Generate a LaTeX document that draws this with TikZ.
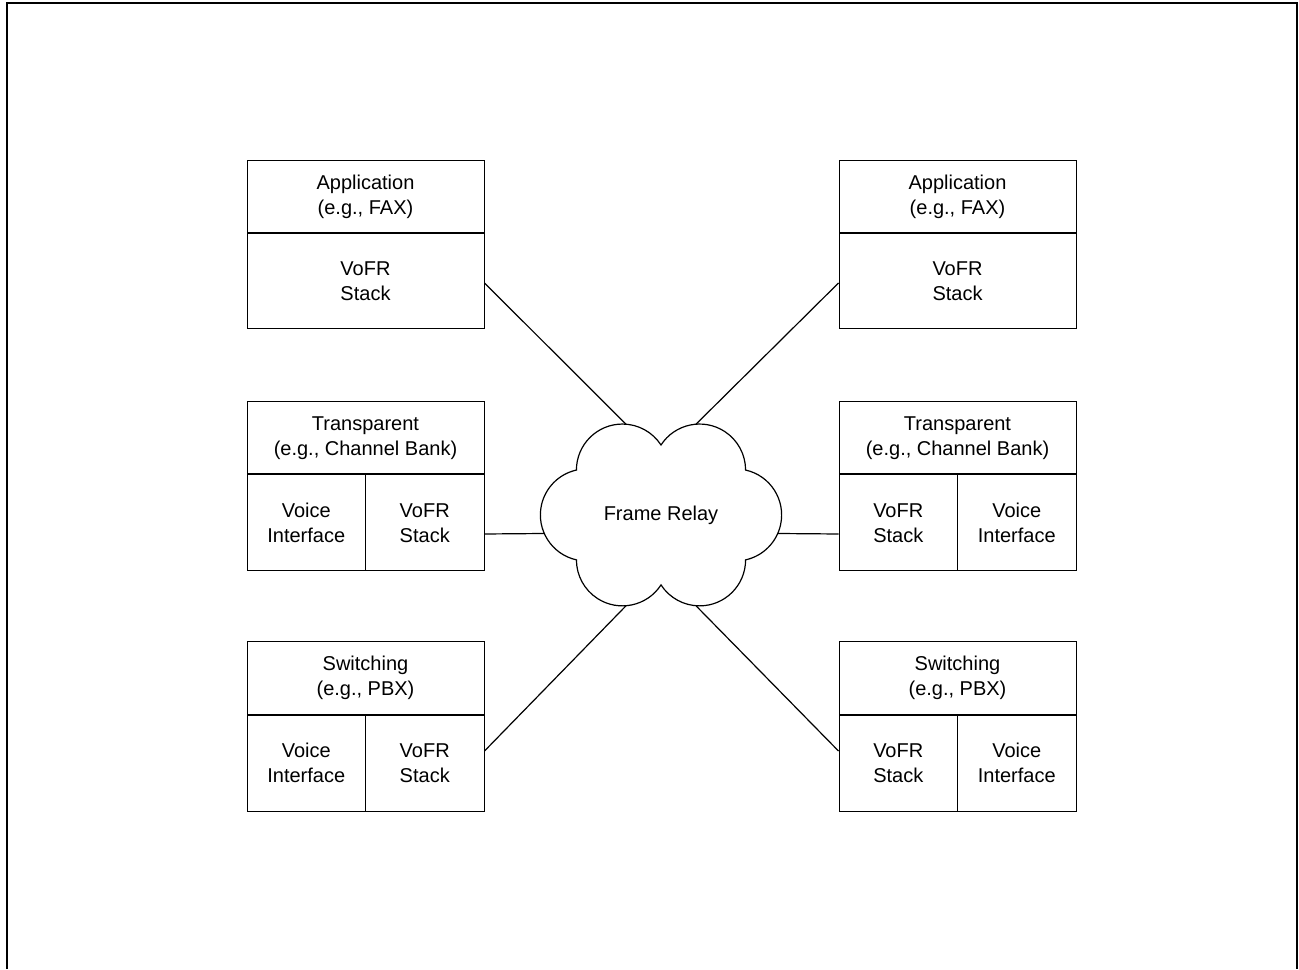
\documentclass[tikz,border=0pt]{standalone}
\usepackage{fontspec}
\setmainfont{Liberation Sans}
\usetikzlibrary{positioning}

\begin{document}
\begin{tikzpicture}[
  x=0.5pt,y=0.5pt,
  every node/.style={font=\fontsize{10}{12.5}\selectfont,align=center,inner sep=0pt},
  hdr/.style={draw,line width=0.5pt,minimum width=118.5pt,minimum height=36pt},
  full/.style={draw,line width=0.5pt,minimum width=118.5pt,minimum height=47.5pt},
  half/.style={draw,line width=0.5pt,minimum width=59.25pt,minimum height=48pt},
  link/.style={line width=0.6pt},
  cloudline/.style={line width=0.6pt,line join=miter}
]
\useasboundingbox (0,0) rectangle (1299,969);
\draw[line width=1pt] (6.5,0) -- (6.5,966) -- (1296.5,966) -- (1296.5,0);

\node[hdr] (app-l) at (365.5,772) {Application\\(e.g., FAX)};
\node[full,below=0pt of app-l] (app-l-st) {VoFR\\Stack};
\node[hdr] (trans-l) at (365.5,531) {Transparent\\(e.g., Channel Bank)};
\node[half,below right=0pt and 0pt of trans-l.south west] (trans-l-vi) {Voice\\Interface};
\node[half,below left=0pt and 0pt of trans-l.south east] (trans-l-st) {VoFR\\Stack};
\node[hdr] (sw-l) at (365.5,291) {Switching\\(e.g., PBX)};
\node[half,below right=0pt and 0pt of sw-l.south west] (sw-l-vi) {Voice\\Interface};
\node[half,below left=0pt and 0pt of sw-l.south east] (sw-l-st) {VoFR\\Stack};

\node[hdr] (app-r) at (957.5,772) {Application\\(e.g., FAX)};
\node[full,below=0pt of app-r] (app-r-st) {VoFR\\Stack};
\node[hdr] (trans-r) at (957.5,531) {Transparent\\(e.g., Channel Bank)};
\node[half,below right=0pt and 0pt of trans-r.south west] (trans-r-st) {VoFR\\Stack};
\node[half,below left=0pt and 0pt of trans-r.south east] (trans-r-vi) {Voice\\Interface};
\node[hdr] (sw-r) at (957.5,291) {Switching\\(e.g., PBX)};
\node[half,below right=0pt and 0pt of sw-r.south west] (sw-r-st) {VoFR\\Stack};
\node[half,below left=0pt and 0pt of sw-r.south east] (sw-r-vi) {Voice\\Interface};

\draw[cloudline] (661,524) arc[start angle=147,end angle=0,radius=23pt]
  arc[start angle=77.5,end angle=-77.5,radius=23pt]
  arc[start angle=0,end angle=-147,radius=23pt]
  arc[start angle=-33,end angle=-180,radius=23pt]
  arc[start angle=-102.5,end angle=-257.5,radius=23pt]
  arc[start angle=180,end angle=33,radius=23pt] -- cycle;
\node (fr) at (661,454) {Frame Relay};
\coordinate (fr-nw) at (626,544.8);
\coordinate (fr-ne) at (696,544.8);
\coordinate (fr-w) at (544.3,435.5);
\coordinate (fr-e) at (777.7,435.5);
\coordinate (fr-sw) at (626,363.2);
\coordinate (fr-se) at (696,363.2);

\draw[link] ([yshift=-0.75pt]app-l-st.east) -- (fr-nw);
\draw[link] ([yshift=-5.5pt]trans-l-st.east) -- (fr-w);
\draw[link] ([yshift=6pt]sw-l-st.east) -- (fr-sw);
\draw[link] ([yshift=-0.75pt]app-r-st.west) -- (fr-ne);
\draw[link] ([yshift=-5.5pt]trans-r-st.west) -- (fr-e);
\draw[link] ([yshift=6pt]sw-r-st.west) -- (fr-se);
\end{tikzpicture}
\end{document}
